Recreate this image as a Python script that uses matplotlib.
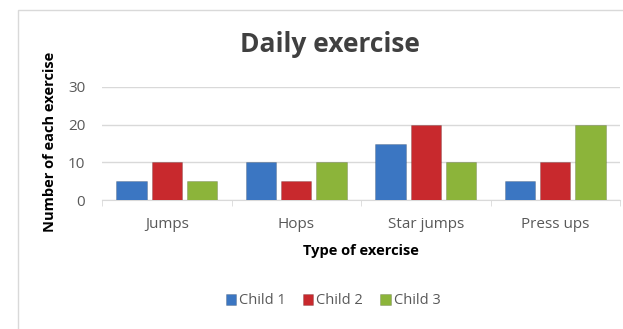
import numpy as np
import matplotlib
matplotlib.use('Agg')
from matplotlib import pyplot as plt
from matplotlib.patches import Rectangle

exercises = ['Jumps', 'Hops', 'Star jumps', 'Press ups']
series = ['Child 1', 'Child 2', 'Child 3']
child1 = [5, 10, 15, 5]
child2 = [10, 5, 20, 10]
child3 = [5, 10, 10, 20]
colors = ['#3b76c2', '#c8292d', '#8cb43a']

plt.rcParams['font.family'] = ['Open Sans', 'DejaVu Sans']

fig = plt.figure(figsize=(6.23, 3.29), dpi=100)
fig.patches.append(Rectangle((18 / 623, -0.01), 1.0, 1 - 10 / 329 + 0.01,
                             transform=fig.transFigure, fill=False,
                             edgecolor='#d9d9d9', linewidth=1.0))

ax = fig.add_axes([102 / 623, (329 - 200) / 329, 518 / 623, 113 / 329])

x = np.arange(len(exercises))
width = 0.235
step = 0.272
for (i, (vals, col)) in enumerate(zip([child1, child2, child3], colors)):
    ax.bar(x + (i - 1) * step, vals, width, color=col, label=series[i],
           edgecolor='#00000030', linewidth=0.6, zorder=3)

ax.set_xlim(-0.5, len(exercises) - 0.5)
ax.set_ylim(0, 30)
ax.set_yticks([0, 10, 20, 30])
ax.grid(axis='y', color='#d9d9d9', linewidth=1.0, zorder=0)
for s in ['top', 'right', 'left']:
    ax.spines[s].set_visible(False)
ax.spines['bottom'].set_color('#d9d9d9')
ax.set_xticks(x)
ax.set_xticklabels(exercises)
ax.set_xticks(np.arange(len(exercises) + 1) - 0.5, minor=True)
ax.tick_params(axis='x', which='major', length=0, pad=12, labelsize=11, labelcolor='#595959')
ax.tick_params(axis='x', which='minor', length=4, color='#d9d9d9')
ax.tick_params(axis='y', length=0, pad=12, labelsize=11, labelcolor='#595959')

ax.set_xlabel('Type of exercise', fontsize=10.5, fontweight='bold', labelpad=9)
fig.text(50 / 623, (329 - 142) / 329, 'Number of each exercise', rotation=90,
         ha='center', va='center', fontsize=10.5, fontweight='bold')
fig.text(330 / 623, (329 - 45) / 329, 'Daily exercise', ha='center', va='center',
         fontsize=19, fontweight='bold', color='#404040')

fig.legend(loc='center', bbox_to_anchor=(333 / 623, (329 - 301) / 329), ncol=3,
           frameon=False, fontsize=10.5, handlelength=0.7, handleheight=0.7,
           handletextpad=0.2, columnspacing=1.2, labelcolor='#595959')

fig.savefig('out.png', dpi=100)
